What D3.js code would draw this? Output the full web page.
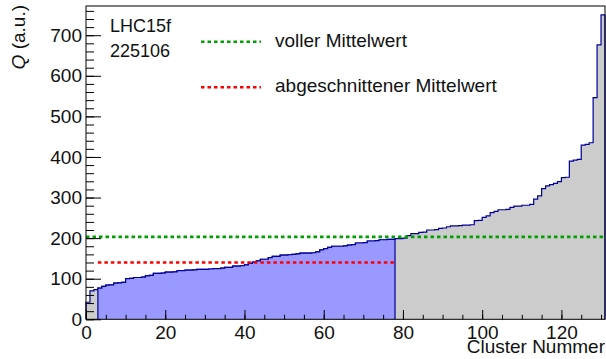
<!DOCTYPE html>
<html>
<head>
<meta charset="utf-8">
<script src="https://cdn.jsdelivr.net/npm/d3@7"></script>
<style>
  body { margin: 0; background: #fff; }
  svg text { font-family: "Liberation Sans", Arial, sans-serif; fill: #111; }
  .axis text { font-size: 19px; }
  .axis path { display: none; }
  .axis line { stroke: #000; stroke-width: 1; }
</style>
</head>
<body>
<div id="chart"></div>
<script>

// sorted cluster charges, one value per cluster (bin)
var charges = [42, 70, 73, 77, 81, 84, 85, 89, 90, 91,
               100, 101, 103, 103, 104, 107, 108, 113, 113, 114,
               116, 116, 117, 120, 120, 121, 121, 122, 123, 123,
               123, 124, 125, 125, 126, 128, 128, 131, 131, 132,
               134, 138, 141, 144, 148, 148, 152, 155, 155, 158,
               158, 159, 160, 161, 163, 163, 163, 164, 166, 171,
               174, 177, 180, 180, 180, 181, 183, 184, 188, 188,
               189, 193, 193, 194, 196, 196, 197, 197, 199, 199,
               200, 206, 211, 211, 214, 215, 220, 220, 221, 224,
               225, 228, 230, 230, 231, 232, 232, 233, 243, 244,
               251, 255, 263, 266, 270, 270, 271, 276, 279, 279,
               281, 281, 283, 296, 304, 322, 329, 332, 335, 339,
               349, 350, 390, 392, 394, 429, 431, 435, 546, 676,
               750];

// truncation range (first kept cluster, first cut cluster)
var cut_range = [3, 78];

// means
var full_mean = 203;
var trunc_mean = 140;

var legend_labels = ["voller Mittelwert", "abgeschnittener Mittelwert"];
var info_lines = ["LHC15f", "225106"];

var x_ticks_major = d3.range(0, 121, 20);
var x_ticks_minor = d3.range(0, 131, 5);
var y_ticks_major = d3.range(0, 701, 100);
var y_ticks_minor = d3.range(0, 761, 20);

var width = 606, height = 359;
var plot = {left: 86, right: 605, top: 6, bottom: 319.3};

var svg = d3.select("#chart")
            .append("svg")
              .attr("width", width)
              .attr("height", height);

var x_scale = d3.scaleLinear()
                .domain([0, charges.length])
                .range([plot.left, plot.right]);

var y_scale = d3.scaleLinear()
                .domain([0, 772])
                .range([plot.bottom, plot.top]);

// step path for bins [from, to)
function step_path(from, to) {
  var p = "M" + x_scale(from) + "," + y_scale(0);
  for (var i = from; i < to; i++) {
    p += "L" + x_scale(i) + "," + y_scale(charges[i]);
    p += "L" + x_scale(i + 1) + "," + y_scale(charges[i]);
  }
  p += "L" + x_scale(to) + "," + y_scale(0);
  return p;
}

// full histogram, gray
svg.append("path")
   .attr("d", step_path(0, charges.length))
   .attr("fill", "#cccccc")
   .attr("stroke", "#000099")
   .attr("stroke-width", 1.2);

// truncated part, blue
svg.append("path")
   .attr("d", step_path(cut_range[0], cut_range[1]))
   .attr("fill", "#9999ff")
   .attr("stroke", "#000099")
   .attr("stroke-width", 1.2);

// mean lines
svg.append("line")
   .attr("x1", x_scale(0))
   .attr("x2", x_scale(charges.length))
   .attr("y1", y_scale(full_mean))
   .attr("y2", y_scale(full_mean))
   .attr("stroke", "#00a000")
   .attr("stroke-width", 2.6)
   .attr("stroke-dasharray", "3.5,3");

svg.append("line")
   .attr("x1", x_scale(cut_range[0]))
   .attr("x2", x_scale(cut_range[1]))
   .attr("y1", y_scale(trunc_mean))
   .attr("y2", y_scale(trunc_mean))
   .attr("stroke", "#ff0000")
   .attr("stroke-width", 2.6)
   .attr("stroke-dasharray", "3.5,3");

// y axis: minor ticks, then major ticks with labels
svg.append("g")
   .attr("class", "axis")
   .attr("transform", "translate(" + plot.left + ",0)")
   .call(d3.axisLeft(y_scale).tickValues(y_ticks_minor).tickSize(-8).tickFormat(""));

svg.append("g")
   .attr("class", "axis")
   .attr("transform", "translate(" + plot.left + ",0)")
   .call(d3.axisLeft(y_scale).tickValues(y_ticks_major).tickSize(-15).tickPadding(4));

// x axis
svg.append("g")
   .attr("class", "axis")
   .attr("transform", "translate(0," + plot.bottom + ")")
   .call(d3.axisBottom(x_scale).tickValues(x_ticks_minor).tickSize(-4.5).tickFormat(""));

svg.append("g")
   .attr("class", "axis")
   .attr("transform", "translate(0," + plot.bottom + ")")
   .call(d3.axisBottom(x_scale).tickValues(x_ticks_major).tickSize(-9.3).tickPadding(6));

// frame
svg.append("rect")
   .attr("x", plot.left)
   .attr("y", plot.top)
   .attr("width", plot.right - plot.left)
   .attr("height", plot.bottom - plot.top)
   .attr("fill", "none")
   .attr("stroke", "#000")
   .attr("stroke-width", 1);

// axis titles
svg.append("text")
   .attr("x", plot.right)
   .attr("y", 353)
   .attr("text-anchor", "end")
   .style("font-size", "19px")
   .text("Cluster Nummer");

var y_title = svg.append("text")
   .attr("transform", "translate(25,5) rotate(-90)")
   .attr("text-anchor", "end")
   .style("font-size", "19px");
y_title.append("tspan").style("font-style", "italic").text("Q");
y_title.append("tspan").text(" (a.u.)");

// run info
svg.selectAll(".info")
   .data(info_lines)
   .enter()
   .append("text")
     .attr("class", "info")
     .attr("x", 110)
     .attr("y", function(d, i) { return 31.7 + 25 * i; })
     .style("font-size", "18px")
     .text(function(d) { return d; });

// legend
var legend_colors = ["#00a000", "#ff0000"];
var legend = svg.selectAll(".legend")
   .data(legend_labels)
   .enter()
   .append("g")
     .attr("class", "legend")
     .attr("transform", function(d, i) { return "translate(0," + (41.7 + 45.6 * i) + ")"; });

legend.append("line")
   .attr("x1", 201)
   .attr("x2", 261)
   .attr("stroke", function(d, i) { return legend_colors[i]; })
   .attr("stroke-width", 2.6)
   .attr("stroke-dasharray", "3.5,3");

legend.append("text")
   .attr("x", 275)
   .attr("y", 5)
   .style("font-size", "19px")
   .text(function(d) { return d; });

</script>
</body>
</html>
